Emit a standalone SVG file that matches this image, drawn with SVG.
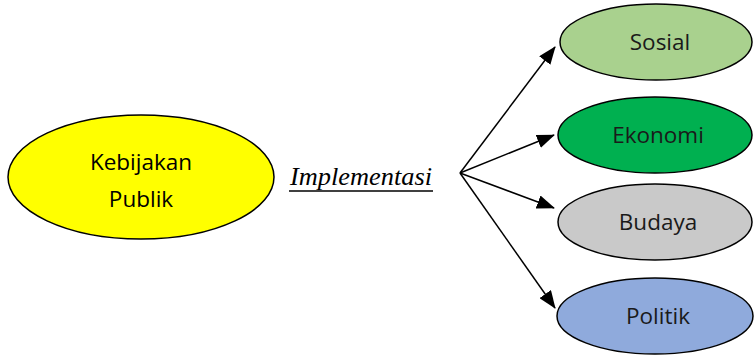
<svg xmlns="http://www.w3.org/2000/svg" width="755" height="355" viewBox="0 0 755 355">
<defs>
<marker id="ah" markerWidth="18" markerHeight="14" refX="17" refY="7" orient="auto" markerUnits="userSpaceOnUse">
<path d="M0,0 L18,7 L0,14 Z" fill="#000"/>
</marker>
<style>
.n{stroke:#000;stroke-width:1.5}
.t{font-family:"Open Sans","Liberation Sans",sans-serif;font-size:22.5px;fill:#1a1a1a;text-anchor:middle}
.c{stroke:#000;stroke-width:1.5;fill:none;marker-end:url(#ah)}
</style>
</defs>
<rect width="755" height="355" fill="#fff"/>
<g id="kebijakan">
<ellipse class="n" cx="141" cy="177" rx="133" ry="62" fill="#FFFF00"/>
<text class="t" x="141" y="170" style="fill:#000">Kebijakan</text>
<text class="t" x="141" y="207" style="fill:#000">Publik</text>
</g>
<g id="implementasi">
<text x="290" y="185" font-family="'Liberation Serif',serif" font-style="italic" font-size="25" fill="#000" textLength="142" lengthAdjust="spacingAndGlyphs">Implementasi</text>
<line x1="289" y1="191" x2="433" y2="191" stroke="#000" stroke-width="1.5"/>
</g>
<g id="sosial">
<ellipse class="n" cx="656" cy="42" rx="96" ry="38" fill="#A9D18E"/>
<text class="t" x="660" y="50">Sosial</text>
</g>
<g id="ekonomi">
<ellipse class="n" cx="655" cy="135" rx="97" ry="38" fill="#00B050"/>
<text class="t" x="658" y="143">Ekonomi</text>
</g>
<g id="budaya">
<ellipse class="n" cx="655" cy="222" rx="97" ry="38" fill="#C9C9C9"/>
<text class="t" x="658" y="230">Budaya</text>
</g>
<g id="politik">
<ellipse class="n" cx="655" cy="316" rx="98" ry="38" fill="#8FAADC"/>
<text class="t" x="658" y="324">Politik</text>
</g>
<g id="connectors">
<line class="c" x1="460" y1="173" x2="555" y2="47"/>
<line class="c" x1="460" y1="173" x2="554" y2="135"/>
<line class="c" x1="460" y1="173" x2="554" y2="208"/>
<line class="c" x1="460" y1="173" x2="555" y2="308"/>
</g>
</svg>
